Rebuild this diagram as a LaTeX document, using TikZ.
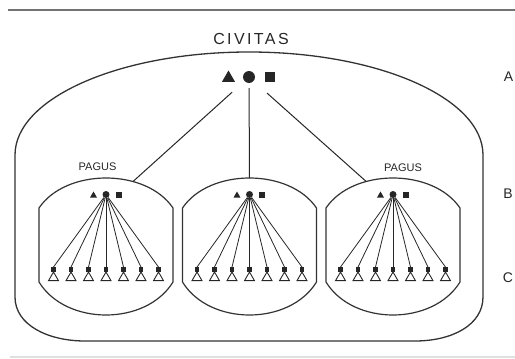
\documentclass[tikz,border=0pt]{standalone}
\usepackage{fontspec}
\setmainfont{Liberation Sans}
\usetikzlibrary{shapes.geometric,positioning}

\begin{document}
\begin{tikzpicture}[x=1pt,y=-1pt,
		outline/.style={line width=1.3pt,draw=black!80},
		filltri/.style={regular polygon,regular polygon sides=3,fill=black!85,inner sep=0pt,minimum size=#1},
		filldot/.style={circle,fill=black!85,inner sep=0pt,minimum size=#1},
		fillsq/.style={rectangle,fill=black!85,inner sep=0pt,minimum size=#1},
		vicus/.style={regular polygon,regular polygon sides=3,draw=black!85,line width=0.9pt,inner sep=0pt,minimum size=11.5pt},
		lvl/.style={font=\fontsize{14}{14}\selectfont,text=black!85,inner sep=0pt}]
		\useasboundingbox (0,0) rectangle (515,359);
		%\draw (0,0) grid (515,359);
		\draw[black!55,line width=2pt] (8,10) -- (515,10);
		\draw[black!12,line width=1.5pt] (10,357) -- (515,357);
		% civitas
		\draw[outline] (15,297) -- (15,155) arc[start angle=180,end angle=360,x radius=234,y radius=103] -- (483,297)
			.. controls (483,325) and (452,341) .. (415,341) -- (85,341) .. controls (48,341) and (15,325) .. (15,297);
		\node[font=\fontsize{16}{16}\selectfont\addfontfeatures{LetterSpace=15},text=black!85,inner sep=0pt] (civitas) at (251,39) {CIVITAS};
		\node[filltri=15pt] (tA) at (228.5,78) {};
		\node[filldot=12pt] (cA) at (249,77) {};
		\node[fillsq=10pt] (sA) at (270,77) {};
		% pagi
		\foreach \cx/\n in {106/L,249.5/M,393/R}{
			\draw[outline,line width=1.2pt] (\cx-67,208) .. controls (\cx-40,168) and (\cx+40,168) .. (\cx+67,208)
				-- (\cx+67,282) .. controls (\cx+40,326) and (\cx-40,326) .. (\cx-67,282) -- cycle;
			\node[filltri=8pt] (t\n) at (\cx-12.5,195.5) {};
			\node[filldot=7pt] (c\n) at (\cx,194.5) {};
			\node[fillsq=6pt] (s\n) at (\cx+12.5,195) {};
			\foreach \i in {0,...,6}{
				\node[fillsq=4.5pt] (k\n\i) at (\cx-52.5+17.5*\i,269.5) {};
				\node[vicus] (v\n\i) at (\cx-52.5+17.5*\i,277.75) {};
				\draw[line width=0.8pt,black!85] (c\n) -- (k\n\i.north);
			}
		}
		\coordinate (pL) at (133,181.5);
		\coordinate (pM) at (249.5,178);
		\coordinate (pR) at (366.2,181.5);
		\draw[line width=1pt,black!85,shorten <=16.5pt] (cA) -- (pL);
		\draw[line width=1pt,black!85,shorten <=5pt] (cA) -- (pM);
		\draw[line width=1pt,black!85,shorten <=18pt] (cA) -- (pR);
		\node[font=\fontsize{11}{11}\selectfont,text=black!85,inner sep=0pt] (pagusL) at (97.5,166.5) {PAGUS};
		\node[font=\fontsize{11}{11}\selectfont,text=black!85,inner sep=0pt] (pagusR) at (403,168) {PAGUS};
		\node[lvl] (lvA) at (508.5,77) {A};
		\node[lvl] (lvB) at (508,194) {B};
		\node[lvl] (lvC) at (508,278) {C};
	\end{tikzpicture}
\end{document}
